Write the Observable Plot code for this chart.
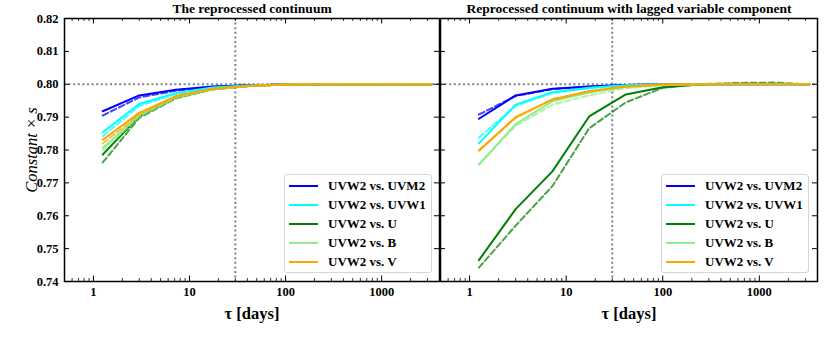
<!DOCTYPE html>
<html><head><meta charset="utf-8">
<script src="https://cdn.jsdelivr.net/npm/d3@7"></script>
<script src="https://cdn.jsdelivr.net/npm/@observablehq/plot@0.6"></script>
<style>
body{margin:0;background:#fff;}
#chart{position:relative;width:831px;height:338px;font-family:"Liberation Serif","Times New Roman",serif;background:#fff;}
#chart svg{position:absolute;top:0;max-width:none;}
.legend{position:absolute;top:174px;width:148px;height:99px;border:1px solid #d5d5d5;border-radius:3px;background:rgba(255,255,255,0.85);font-weight:bold;font-size:13px;box-sizing:border-box;padding-top:1px;}
.legend .row{height:19px;display:flex;align-items:center;white-space:nowrap;}
.legend .sw{width:29px;height:0;border-top:2.5px solid;margin-left:4px;margin-right:10px;}
</style></head><body><div id="chart"></div><script>
// ---- data ----
const tau = [1.25, 3, 7.2, 17.3, 41.5, 100, 240, 575, 1380, 3300];
const seriesNames = ["UVW2 vs. UVM2", "UVW2 vs. UVW1", "UVW2 vs. U", "UVW2 vs. B", "UVW2 vs. V"];
const seriesColors = ["#0000ff", "#00ffff", "#008000", "#90ee90", "#ffa500"];
const panelTitles = ["The reprocessed continuum", "Reprocessed continuum with lagged variable component"];
const xMajorTicks = [1, 10, 100, 1000];
const xMinorTicks = [0.6, 0.7, 0.8, 0.9, 2, 3, 4, 5, 6, 7, 8, 9, 20, 30, 40, 50, 60, 70, 80, 90, 200, 300, 400, 500, 600, 700, 800, 900, 2000, 3000];
const yTicks = [0.74, 0.75, 0.76, 0.77, 0.78, 0.79, 0.80, 0.81, 0.82];
const refTau = [30];
const refConst = [0.80];

// left panel: solid / dashed
const leftUVM2  = [0.7918, 0.7966, 0.7983, 0.7993, 0.7997, 0.7999, 0.8000, 0.8000, 0.8000, 0.8000];
const leftUVM2d = [0.7905, 0.7960, 0.7980, 0.7992, 0.7997, 0.7999, 0.8000, 0.8000, 0.8000, 0.8000];
const leftUVW1  = [0.7854, 0.7940, 0.7973, 0.7990, 0.7996, 0.7999, 0.8000, 0.8000, 0.8000, 0.8000];
const leftUVW1d = [0.7842, 0.7934, 0.7970, 0.7989, 0.7996, 0.7999, 0.8000, 0.8000, 0.8000, 0.8000];
const leftU     = [0.7786, 0.7903, 0.7960, 0.7985, 0.7995, 0.7999, 0.8000, 0.8000, 0.8000, 0.8000];
const leftUd    = [0.7762, 0.7898, 0.7957, 0.7984, 0.7995, 0.7999, 0.8000, 0.8000, 0.8000, 0.8000];
const leftB     = [0.7806, 0.7906, 0.7961, 0.7985, 0.7995, 0.7999, 0.8000, 0.8000, 0.8000, 0.8000];
const leftBd    = [0.7798, 0.7902, 0.7959, 0.7984, 0.7995, 0.7999, 0.8000, 0.8000, 0.8000, 0.8000];
const leftV     = [0.7831, 0.7913, 0.7964, 0.7986, 0.7995, 0.7999, 0.8000, 0.8000, 0.8000, 0.8000];
const leftVd    = [0.7820, 0.7908, 0.7962, 0.7985, 0.7995, 0.7999, 0.8000, 0.8000, 0.8000, 0.8000];

// right panel: solid / dashed
const rightUVM2  = [0.7895, 0.7966, 0.7986, 0.7993, 0.7998, 0.7999, 0.8000, 0.8000, 0.8000, 0.8000];
const rightUVM2d = [0.7908, 0.7964, 0.7985, 0.7993, 0.7998, 0.7999, 0.8000, 0.8000, 0.8000, 0.8000];
const rightUVW1  = [0.7820, 0.7938, 0.7976, 0.7989, 0.7997, 0.7999, 0.8000, 0.8000, 0.8000, 0.8000];
const rightUVW1d = [0.7838, 0.7934, 0.7973, 0.7988, 0.7997, 0.7999, 0.8000, 0.8000, 0.8000, 0.8000];
const rightU     = [0.7465, 0.7620, 0.7735, 0.7902, 0.7969, 0.7991, 0.7999, 0.8001, 0.8001, 0.8000];
const rightUd    = [0.7442, 0.7570, 0.7690, 0.7866, 0.7945, 0.7989, 0.8000, 0.8004, 0.8005, 0.8000];
const rightB     = [0.7755, 0.7879, 0.7948, 0.7975, 0.7992, 0.7998, 0.8000, 0.8000, 0.8000, 0.8000];
const rightBd    = [0.7757, 0.7873, 0.7938, 0.7966, 0.7988, 0.7997, 0.7999, 0.8000, 0.8000, 0.8000];
const rightV     = [0.7798, 0.7900, 0.7953, 0.7979, 0.7993, 0.7999, 0.8000, 0.8000, 0.8000, 0.8000];
const rightVd    = [0.7800, 0.7897, 0.7955, 0.7979, 0.7993, 0.7999, 0.8000, 0.8000, 0.8000, 0.8000];

const leftSeries = [[leftUVM2, leftUVM2d], [leftUVW1, leftUVW1d], [leftU, leftUd], [leftB, leftBd], [leftV, leftVd]];
const rightSeries = [[rightUVM2, rightUVM2d], [rightUVW1, rightUVW1d], [rightU, rightUd], [rightB, rightBd], [rightV, rightVd]];

// ---- drawing ----
const H = 338, MT = 18, MB = 57;
const frameH = H - MT - MB;

function panel({width, marginLeft, marginRight, seriesData, title, showY}) {
  const frameW = width - marginLeft - marginRight;
  const marks = [
    Plot.ruleY(refConst, {stroke: "#808080", strokeWidth: 2, strokeDasharray: "2,2.6"}),
    Plot.ruleX(refTau, {stroke: "#808080", strokeWidth: 2, strokeDasharray: "2,2.6"})
  ];
  seriesData.forEach(([solid, dashed], i) => {
    const s = tau.map((t, j) => ({t, v: solid[j]}));
    const d = tau.map((t, j) => ({t, v: dashed[j]}));
    marks.push(Plot.line(s, {x: "t", y: "v", stroke: seriesColors[i], strokeWidth: 2}));
    marks.push(Plot.line(d, {x: "t", y: "v", stroke: seriesColors[i], strokeWidth: 2, strokeOpacity: 0.72, strokeDasharray: "6,3"}));
  });
  // inward ticks
  marks.push(
    Plot.tickX(xMajorTicks, {x: d => d, insetTop: frameH - 5.5, stroke: "black", strokeWidth: 1}),
    Plot.tickX(xMajorTicks, {x: d => d, insetBottom: frameH - 5.5, stroke: "black", strokeWidth: 1}),
    Plot.tickX(xMinorTicks, {x: d => d, insetTop: frameH - 3, stroke: "black", strokeWidth: 0.8}),
    Plot.tickX(xMinorTicks, {x: d => d, insetBottom: frameH - 3, stroke: "black", strokeWidth: 0.8}),
    Plot.tickY(yTicks, {y: d => d, insetRight: frameW - 5, stroke: "black", strokeWidth: 1}),
    Plot.tickY(yTicks, {y: d => d, insetLeft: frameW - 5, stroke: "black", strokeWidth: 1}),
    Plot.frame({stroke: "black", strokeWidth: 1.5}),
    Plot.text([title], {frameAnchor: "top", dy: -9.5, lineAnchor: "middle", textAnchor: "middle", fontSize: 13.5, fontWeight: "bold", text: d => d}),
    Plot.text(["\u03c4 [days]"], {frameAnchor: "bottom", dy: 32, lineAnchor: "middle", textAnchor: "middle", fontSize: 16.5, fontWeight: "bold", text: d => d})
  );
  if (showY) {
    marks.push(Plot.text(["Constant \u00d7 s"], {frameAnchor: "left", dx: -33, rotate: -90, lineAnchor: "middle", textAnchor: "middle", fontSize: 16.5, fontStyle: "italic", fontWeight: "normal", text: d => d}));
  }
  return Plot.plot({
    width, height: H, marginLeft, marginRight, marginTop: MT, marginBottom: MB,
    style: {fontFamily: "'Liberation Serif','Times New Roman',serif", fontSize: "12.5px", fontWeight: "bold", background: "transparent", color: "black"},
    x: {type: "log", domain: [0.5, 4000], ticks: xMajorTicks, tickFormat: d => String(d), tickSize: 0, tickPadding: 6, label: null},
    y: showY
      ? {domain: [0.74, 0.82], ticks: yTicks, tickFormat: d3.format(".2f"), tickSize: 0, tickPadding: 6, label: null}
      : {domain: [0.74, 0.82], axis: null},
    marks
  });
}

const chart = document.getElementById("chart");
const p1 = panel({width: 440, marginLeft: 64, marginRight: 1, seriesData: leftSeries, title: panelTitles[0], showY: true});
p1.style.left = "0px";
const p2 = panel({width: 391, marginLeft: 0, marginRight: 14, seriesData: rightSeries, title: panelTitles[1], showY: false});
p2.style.left = "440px";
chart.appendChild(p1);
chart.appendChild(p2);

function legend(left) {
  const div = document.createElement("div");
  div.className = "legend";
  div.style.left = left + "px";
  seriesNames.forEach((name, i) => {
    const row = document.createElement("div");
    row.className = "row";
    const sw = document.createElement("span");
    sw.className = "sw";
    sw.style.borderTopColor = seriesColors[i];
    const tx = document.createElement("span");
    tx.textContent = name;
    row.appendChild(sw); row.appendChild(tx);
    div.appendChild(row);
  });
  chart.appendChild(div);
}
legend(284);
legend(661);
</script></body></html>
